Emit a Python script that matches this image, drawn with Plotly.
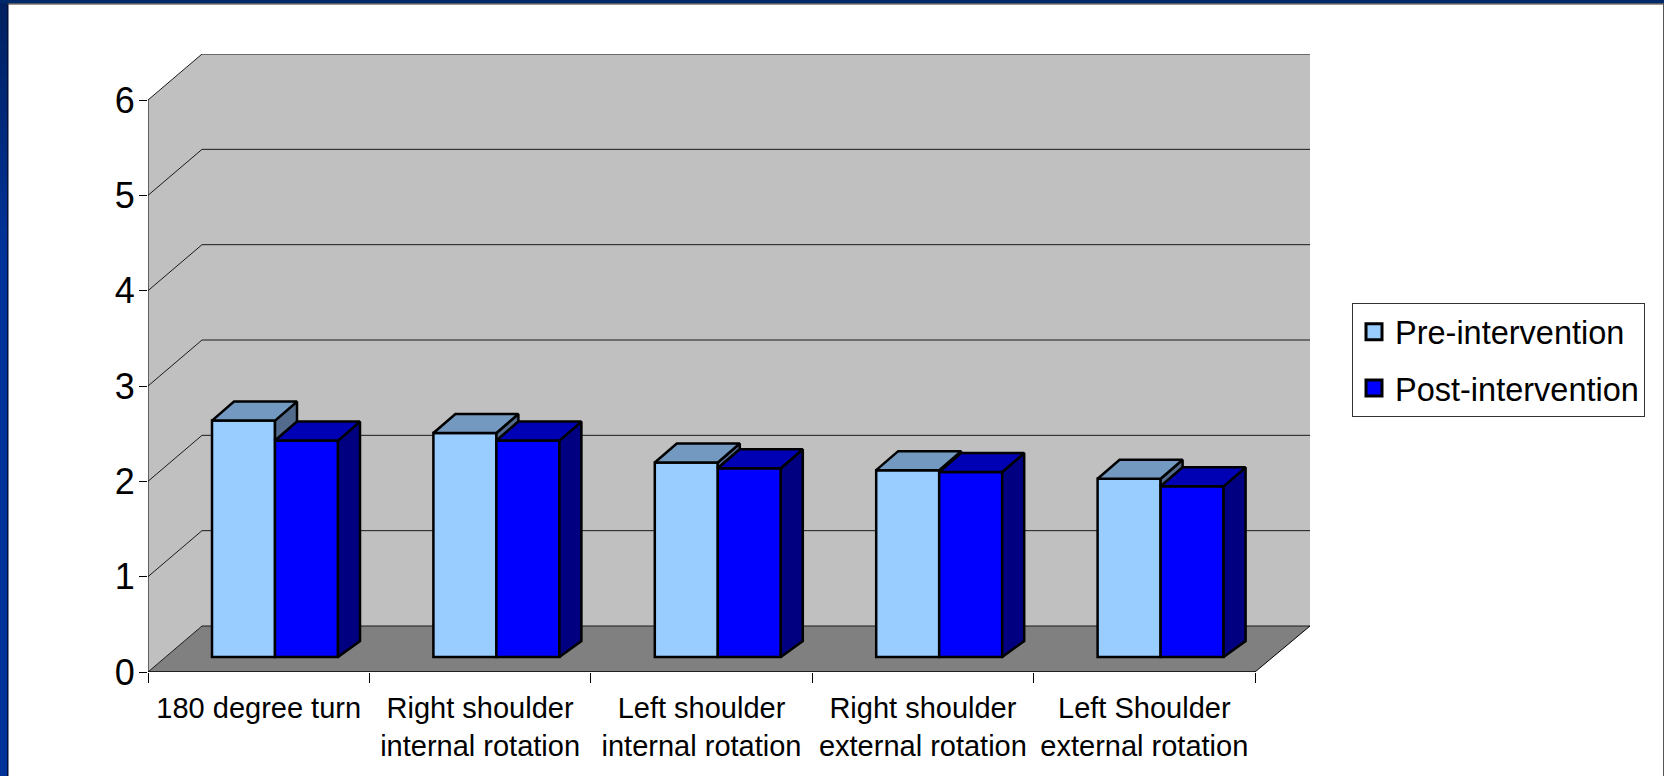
import plotly.graph_objects as go

categories = ["180 degree turn", "Right shoulder<br>internal rotation", "Left shoulder<br>internal rotation",
              "Right shoulder<br>external rotation", "Left Shoulder<br>external rotation"]
pre_values = [2.48, 2.35, 2.04, 1.96, 1.87]
post_values = [2.27, 2.27, 1.98, 1.94, 1.79]
y_ticks = [0, 1, 2, 3, 4, 5, 6]

W, H = 1664, 776
L, R, T, B = 148, 1310, 54, 672          # plot area in page pixels
CAT_PX = 221.4                           # pixels per category
UNIT_PX = 95.33                          # pixels per value unit
BLACK = "#000000"
FONT = "Liberation Sans"


def dxu(px):
    return px / CAT_PX


def dyu(px):
    return px / UNIT_PX


def px_x(px):
    return (px - L) / (R - L)


def px_y(py):
    return (B - py) / (B - T)


n = len(categories)
x_end = n + dxu(R - L - n * CAT_PX)
wall_dx, wall_dy = dxu(54), dyu(46)
base = dyu(15)
bar_w = dxu(63)
group_shift = dxu(127) - 0.5
face_dx, top_dy, bot_dy = dxu(22), dyu(19), dyu(16)

centers = [i + 0.5 for i in range(n)]
pre_x = [c + group_shift - bar_w / 2 for c in centers]
post_x = [c + group_shift + bar_w / 2 for c in centers]


def path(points):
    return "M" + " L".join(f"{a},{b}" for a, b in points) + " Z"


shapes = []
# back and side wall, floor
shapes.append(dict(type="path", xref="x", yref="y", layer="below", fillcolor="#C0C0C0", line_width=0,
                   path=path([(0, 0), (0, 6), (wall_dx, 6 + wall_dy), (x_end, 6 + wall_dy),
                              (x_end, wall_dy), (wall_dx, wall_dy)])))
shapes.append(dict(type="path", xref="x", yref="y", layer="below", fillcolor="#808080", line_width=0,
                   path=path([(0, 0), (wall_dx, wall_dy), (x_end, wall_dy), (n, 0)])))


def seg(x0, y0, x1, y1, color="#1a1a1a", width=1):
    shapes.append(dict(type="line", xref="x", yref="y", layer="below", x0=x0, y0=y0, x1=x1, y1=y1,
                       line=dict(color=color, width=width)))


for v in y_ticks:
    seg(0, v, wall_dx, v + wall_dy)
    seg(wall_dx, v + wall_dy, x_end, v + wall_dy)
seg(0, 0, 0, 6, BLACK)
seg(0, 0, n, 0, BLACK, 1.5)
seg(n, 0, x_end, wall_dy, BLACK)

# slide frame: gradient strip on the left (overlapping bands avoid seams), top strip, right hairline
dark, blue = (0, 32, 96), (0, 51, 153)
steps = 24
for s in range(steps):
    t = s / (steps - 1)
    c = tuple(round(dark[k] + (blue[k] - dark[k]) * t) for k in range(3))
    y0 = s * 260 / steps
    shapes.append(dict(type="rect", xref="paper", yref="paper", x0=px_x(0), x1=px_x(7.5), y0=px_y(y0), y1=px_y(776),
                       fillcolor=f"rgb{c}", line_width=0))
shapes.append(dict(type="rect", xref="paper", yref="paper", x0=px_x(7), x1=px_x(8.5), y0=px_y(3), y1=px_y(776),
                   fillcolor="#00103a", line_width=0))
shapes.append(dict(type="rect", xref="paper", yref="paper", x0=px_x(0), x1=px_x(1664), y0=px_y(0), y1=px_y(3.2),
                   fillcolor="#00296B", line_width=0))
shapes.append(dict(type="rect", xref="paper", yref="paper", x0=px_x(7), x1=px_x(1664), y0=px_y(3.2), y1=px_y(4.6),
                   fillcolor="#333333", line_width=0))
shapes.append(dict(type="rect", xref="paper", yref="paper", x0=px_x(1663), x1=px_x(1664), y0=px_y(3), y1=px_y(776),
                   fillcolor="#555555", line_width=0))

fig = go.Figure()
edge = dict(color=BLACK, width=2.5)
fig.add_trace(go.Bar(x=pre_x, y=pre_values, base=base, width=bar_w, marker=dict(color="#99CCFF", line=edge),
                     showlegend=False, hoverinfo="skip"))
fig.add_trace(go.Bar(x=post_x, y=post_values, base=base, width=bar_w, marker=dict(color="#0000FF", line=edge),
                     showlegend=False, hoverinfo="skip"))


def faces(polys, color):
    xs, ys = [], []
    for poly in polys:
        xs += [p[0] for p in poly] + [poly[0][0], None]
        ys += [p[1] for p in poly] + [poly[0][1], None]
    fig.add_trace(go.Scatter(x=xs, y=ys, mode="lines", fill="toself", fillcolor=color,
                             line=dict(color=BLACK, width=2.5), showlegend=False, hoverinfo="skip"))


pre_side, pre_top, post_side, post_top = [], [], [], []
for i in range(n):
    a = pre_x[i] - bar_w / 2
    b = pre_x[i] + bar_w / 2
    c = post_x[i] + bar_w / 2
    vp = pre_values[i] + base
    vq = post_values[i] + base
    pre_side.append([(b, vp), (b + face_dx, vp + top_dy), (b + face_dx, vq + top_dy), (b, vq)])
    pre_top.append([(a, vp), (a + face_dx, vp + top_dy), (b + face_dx, vp + top_dy), (b, vp)])
    post_side.append([(c, vq), (c + face_dx, vq + top_dy), (c + face_dx, base + bot_dy), (c, base)])
    post_top.append([(b, vq), (b + face_dx, vq + top_dy), (c + face_dx, vq + top_dy), (c, vq)])
faces(pre_side, "#526A8C")
faces(pre_top, "#7399C0")
faces(post_side, "#000080")
faces(post_top, "#0000B4")

# legend entries
for name, color in (("Pre-intervention", "#99CCFF"), ("Post-intervention", "#0000FF")):
    fig.add_trace(go.Scatter(x=[None], y=[None], mode="markers", name=name, legendgroup=name,
                             marker=dict(symbol="square", size=16, color=color, line=dict(color=BLACK, width=3))))

fig.update_layout(
    width=W, height=H, autosize=False,
    margin=dict(l=L, r=W - R, t=T, b=H - B, pad=0),
    paper_bgcolor="#FFFFFF", plot_bgcolor="#FFFFFF",
    font=dict(family=FONT, color=BLACK),
    barmode="overlay", hovermode=False, shapes=shapes,
    xaxis=dict(range=[0, x_end], domain=[0, 1], showgrid=False, zeroline=False, showline=False,
               tickmode="array", tickvals=centers, ticktext=categories, ticks="", tickangle=0,
               tickfont=dict(size=29, family=FONT), ticklabelstandoff=16,
               minor=dict(tickmode="array", tickvals=list(range(n + 1)), ticks="outside", ticklen=10,
                          tickwidth=1, tickcolor=BLACK, showgrid=False)),
    yaxis=dict(range=[0, (B - T) / UNIT_PX], domain=[0, 1], showgrid=False, zeroline=False, showline=False,
               tickmode="array", tickvals=y_ticks, ticks="outside", ticklen=8, tickwidth=1, tickcolor=BLACK,
               ticklabelstandoff=-3, tickfont=dict(size=36, family=FONT)),
    legend=dict(x=px_x(1352), y=px_y(303), xanchor="left", yanchor="top", bgcolor="#FFFFFF",
                bordercolor="#333333", borderwidth=1, font=dict(size=32.5, family=FONT), traceorder="grouped",
                tracegroupgap=11, itemwidth=32, itemclick=False, itemdoubleclick=False),
)

fig.write_html("out.html", config=dict(displayModeBar=False, responsive=False),
               post_script="document.body.style.margin='0';document.body.style.overflow='hidden';")
